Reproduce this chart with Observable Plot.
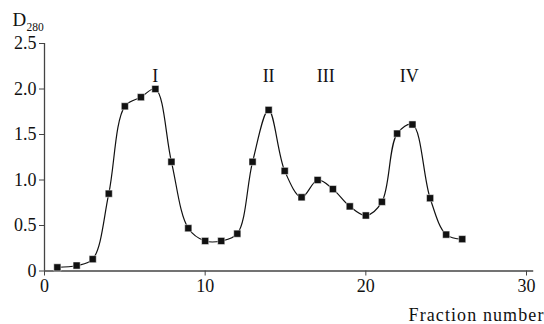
<!DOCTYPE html>
<html>
<head>
<meta charset="utf-8">
<script src="https://cdn.jsdelivr.net/npm/d3@7"></script>
<script src="https://cdn.jsdelivr.net/npm/@observablehq/plot@0.6"></script>
<style>
  html, body { margin: 0; padding: 0; background: #fff; }
  #chart { position: relative; width: 544px; height: 324px; }
  #ylab { position: absolute; left: 0; top: 0; }
</style>
</head>
<body>
<div id="chart">
  <svg id="ylab" width="60" height="40" font-family="'Liberation Serif', serif" fill="#111">
    <text x="12.5" y="25.7" font-size="19">D</text>
    <text x="26.5" y="30.6" font-size="11.5">280</text>
  </svg>
</div>
<script>
const fractions = [0.8, 2, 3, 4, 5, 6, 6.9, 7.9, 8.95, 10, 11, 12, 12.95, 13.95, 14.95, 16, 17, 17.95, 19, 20, 21, 21.95, 22.9, 24, 25, 26];
const absorbance = [0.04, 0.06, 0.13, 0.85, 1.81, 1.91, 2.0, 1.2, 0.47, 0.33, 0.33, 0.41, 1.2, 1.77, 1.1, 0.81, 1.0, 0.9, 0.71, 0.61, 0.76, 1.51, 1.61, 0.8, 0.4, 0.35];
const peakLabels = ["I", "II", "III", "IV"];
const peakX = [6.9, 13.95, 17.5, 22.7];
const peakY = 2.08;
const xTicks = [0, 10, 20, 30];
const yTicks = [0, 0.5, 1.0, 1.5, 2.0, 2.5];

const data = fractions.map((f, i) => ({x: f, y: absorbance[i]}));
const peaks = peakLabels.map((t, i) => ({x: peakX[i], y: peakY, t}));

const font = "'Liberation Serif', 'Times New Roman', serif";
const axisColor = "#444";

const plot = Plot.plot({
  width: 544,
  height: 324,
  marginLeft: 44,
  marginRight: 18,
  marginTop: 43,
  marginBottom: 53.5,
  style: {fontFamily: font, fontSize: "18px", color: "#111", background: "transparent", overflow: "visible"},
  x: {domain: [0, 30], label: null},
  y: {domain: [0, 2.5], label: null},
  marks: [
    Plot.axisX({ticks: xTicks, tickSize: 5, tickPadding: 3, stroke: axisColor, fontSize: 18, fill: "#111", tickFormat: d => String(d), label: null}),
    Plot.axisY({ticks: yTicks, tickSize: 5, tickPadding: 3, stroke: axisColor, fontSize: 18, fill: "#111", tickFormat: d => d === 0 ? "0" : d.toFixed(1), label: null}),
    Plot.ruleY([0], {x1: 0, x2: 30.45, stroke: axisColor, strokeWidth: 1.3, clip: false}),
    Plot.ruleX([0], {y1: 0, y2: 2.5, stroke: axisColor, strokeWidth: 1.3}),
    Plot.line(data, {x: "x", y: "y", curve: "catmull-rom", stroke: "#111", strokeWidth: 1.2}),
    Plot.dot(data, {x: "x", y: "y", symbol: "square", r: 4, fill: "#111", stroke: "#fff", strokeWidth: 0.5}),
    Plot.text(peaks, {x: "x", y: "y", text: "t", lineAnchor: "bottom", fontSize: 18, fill: "#111", fontFamily: font}),
    Plot.text(["Fraction number"], {frameAnchor: "bottom-right", dx: 18, dy: 50, lineAnchor: "bottom", textAnchor: "end", fontSize: 18, fill: "#111", fontFamily: font})
  ]
});
plot.style.overflow = "visible";
document.getElementById("chart").appendChild(plot);
plot.querySelectorAll("text").forEach(t => { if (t.textContent === "Fraction number") t.setAttribute("letter-spacing", "1.1"); });
</script>
</body>
</html>
